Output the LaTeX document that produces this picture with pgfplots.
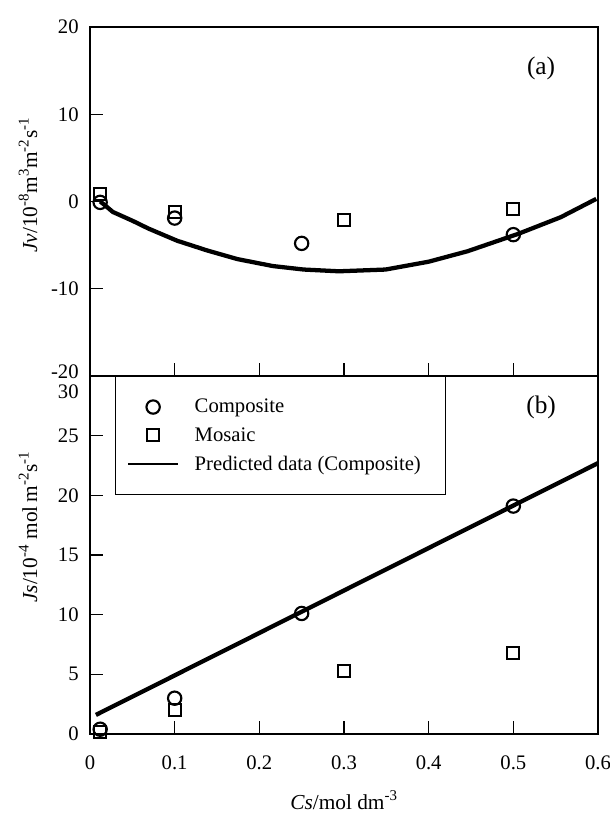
\documentclass[border=0pt]{standalone}
\usepackage{pgfplots}
\pgfplotsset{compat=1.18}
\usepackage{fontspec}
\setmainfont{Liberation Serif}
\begin{document}
\begin{tikzpicture}
\useasboundingbox (-67.5pt,-60pt) rectangle (390pt,550.5pt);
\pgfplotsset{
  common/.style={
    scale only axis, width=381pt,
    xmin=0, xmax=0.6,
    tick align=inside, tick pos=left,
    major tick length=10pt,
    axis line style={line width=0.9pt},
    every tick/.style={black, line width=0.9pt},
    font=\fontsize{15.5}{18}\selectfont,
    /pgf/number format/assume math mode=true,
    yticklabel style={xshift=-5pt},
    every axis y label/.style={rotate=90, anchor=center, font=\fontsize{16}{19}\selectfont},
    every axis x label/.style={anchor=center, font=\fontsize{16}{19}\selectfont},
  },
  circ/.style={only marks, mark=o, mark size=5pt, line width=1.6pt, black},
  sq/.style={only marks, mark=square, mark size=4.5pt, line width=1.5pt, black},
  curve/.style={no marks, line width=3.2pt, black},
}
% ---------- bottom panel (b) ----------
\begin{axis}[common,
  at={(0,0)}, anchor=south west, height=268.5pt,
  ymin=0, ymax=30,
  ytick={0,5,10,15,20,25},
  extra y ticks={30},
  extra y tick style={yticklabel style={yshift=-11.8pt}},
  xtick={0,0.1,0.2,0.3,0.4,0.5,0.6},
  xticklabels={0,0.1,0.2,0.3,0.4,0.5,0.6},
  xticklabel style={yshift=-12.5pt},
  xlabel={\textit{Cs}/mol dm\textsuperscript{-3}},
  xlabel style={at={(axis description cs:0.5,0)}, yshift=-49.5pt},
  ylabel={\textit{Js}/10\textsuperscript{-4} mol\,m\textsuperscript{-2}s\textsuperscript{-1}},
  ylabel style={at={(axis description cs:-0.122,0.578)}},
  legend image code/.code={\draw[mark repeat=2,mark phase=2,#1] plot coordinates {(0pt,0pt) (18.75pt,0pt) (37.5pt,0pt)};},
  legend cell align=left,
  legend style={at={(axis description cs:0.0492,1)}, anchor=north west,
    draw=black, line width=0.8pt, inner xsep=9pt, inner ysep=15pt,
    row sep=5.5pt, column sep=10pt, font=\fontsize{15.5}{18}\selectfont},
]
\addplot[circ] coordinates {(0.012,0.4) (0.1,3.0) (0.25,10.1) (0.5,19.1)};
\addlegendentry{Composite}
\addplot[sq] coordinates {(0.012,0.2) (0.1,2.0) (0.3,5.3) (0.5,6.8)};
\addlegendentry{Mosaic}
\addplot[curve, legend image post style={line width=0.9pt}] coordinates {(0.007,1.6) (0.6,22.7)};
\addlegendentry{Predicted data (Composite)\rule{7.5pt}{0pt}}
\node[font=\fontsize{19}{22}\selectfont] at (axis description cs:0.888,0.911) {(b)};
\end{axis}
% ---------- top panel (a) ----------
\begin{axis}[common,
  at={(0,268.5pt)}, anchor=south west, height=261.75pt,
  ymin=-20, ymax=20,
  ytick={-10,0,10,20},
  extra y ticks={-20},
  extra y tick style={yticklabel style={yshift=3.2pt}},
  xtick={0.1,0.2,0.3,0.4,0.5},
  xticklabels={},
  ylabel={\textit{Jv}/10\textsuperscript{-8}m\textsuperscript{3}m\textsuperscript{-2}s\textsuperscript{-1}},
  ylabel style={at={(axis description cs:-0.122,0.547)}},
]
\addplot[curve] coordinates {
 (0.012,0.0) (0.016,-0.3) (0.027,-1.2) (0.05,-2.2) (0.069,-3.1)
 (0.103,-4.5) (0.138,-5.6) (0.174,-6.6) (0.216,-7.4) (0.2525,-7.8)
 (0.294,-8.0) (0.349,-7.8) (0.40,-6.9) (0.446,-5.7) (0.506,-3.7)
 (0.556,-1.8) (0.598,0.3)};
\addplot[circ] coordinates {(0.012,-0.1) (0.1,-1.9) (0.25,-4.8) (0.5,-3.8)};
\addplot[sq] coordinates {(0.012,0.9) (0.1,-1.2) (0.3,-2.1) (0.5,-0.85)};
\node[font=\fontsize{19}{22}\selectfont] at (axis description cs:0.888,0.8825) {(a)};
\end{axis}
\end{tikzpicture}
\end{document}
